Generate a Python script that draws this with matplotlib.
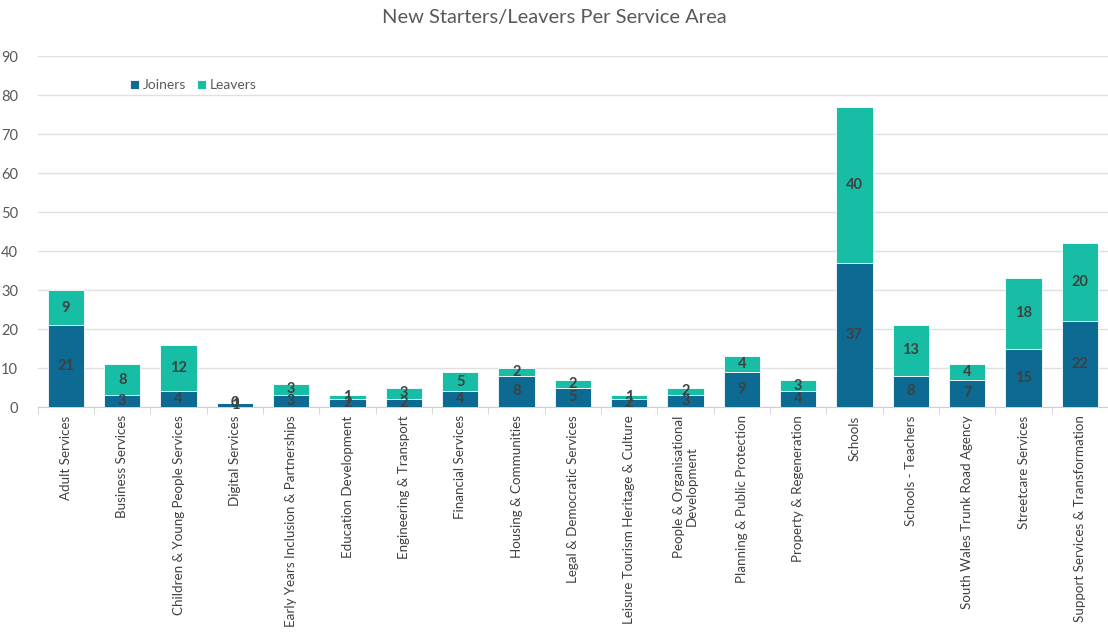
import numpy as np
import matplotlib.pyplot as plt

plt.rcParams['font.family'] = ['Lato', 'DejaVu Sans']

# Headcount movement per service area
areas = [
    "Adult Services", "Business Services", "Children & Young People Services",
    "Digital Services", "Early Years Inclusion & Partnerships",
    "Education Development", "Engineering & Transport", "Financial Services",
    "Housing & Communities", "Legal & Democratic Services",
    "Leisure Tourism Heritage & Culture", "People & Organisational\nDevelopment",
    "Planning & Public Protection", "Property & Regeneration", "Schools",
    "Schools - Teachers", "South Wales Trunk Road Agency",
    "Streetcare Services", "Support Services & Transformation",
]
joiners = [21, 3, 4, 1, 3, 2, 2, 4, 8, 5, 2, 3, 9, 4, 37, 8, 7, 15, 22]
leavers = [9, 8, 12, 0, 3, 1, 3, 5, 2, 2, 1, 2, 4, 3, 40, 13, 4, 18, 20]

c_join = "#0C6A93"
c_leave = "#17BEA5"
txt = "#404040"

fig = plt.figure(figsize=(11.08, 6.32), dpi=100)
ax = fig.add_axes([0.034, 0.356, 0.966, 0.555])

x = np.arange(len(areas))
w = 0.64
ax.bar(x, joiners, w, color=c_join, edgecolor="white", linewidth=0.6,
       label="Joiners", zorder=3)
ax.bar(x, leavers, w, bottom=joiners, color=c_leave, edgecolor="white",
       linewidth=0.6, label="Leavers", zorder=3)

for i in range(len(areas)):
    ax.text(x[i], joiners[i] / 2, str(joiners[i]), ha="center", va="center",
            fontsize=10.5, color=txt, fontweight="bold", zorder=4)
    ax.text(x[i], joiners[i] + leavers[i] / 2, str(leavers[i]), ha="center",
            va="center", fontsize=10.5, color=txt, fontweight="bold", zorder=4)

ax.set_ylim(0, 90)
ax.set_yticks(range(0, 91, 10))
ax.set_xlim(-0.5, 18.34)
ax.set_xticks(x)
ax.set_xticklabels(areas, rotation=90, fontsize=9.6, color=txt, linespacing=1.1)
ax.set_xticks(np.arange(-0.5, 19, 1), minor=True)
ax.tick_params(axis="x", which="major", length=0, pad=6)
ax.tick_params(axis="x", which="minor", length=5, color="#d0d0d0")
ax.tick_params(axis="y", length=0, labelsize=10.5, labelcolor="#595959", pad=14)
ax.grid(axis="y", color="#e0e0e0", linewidth=1, zorder=0)
for s in ["top", "right", "left"]:
    ax.spines[s].set_visible(False)
ax.spines["bottom"].set_color("#d0d0d0")

ax.legend(loc="upper left", bbox_to_anchor=(0.075, 0.97), ncol=2, frameon=False,
          fontsize=10, handlelength=0.6, handleheight=0.6, handletextpad=0.3,
          columnspacing=0.8, labelcolor="#595959")

fig.text(0.5, 0.972, "New Starters/Leavers Per Service Area", ha="center",
         va="center", fontsize=14.5, color="#595959")

fig.savefig("out.png", dpi=100)
